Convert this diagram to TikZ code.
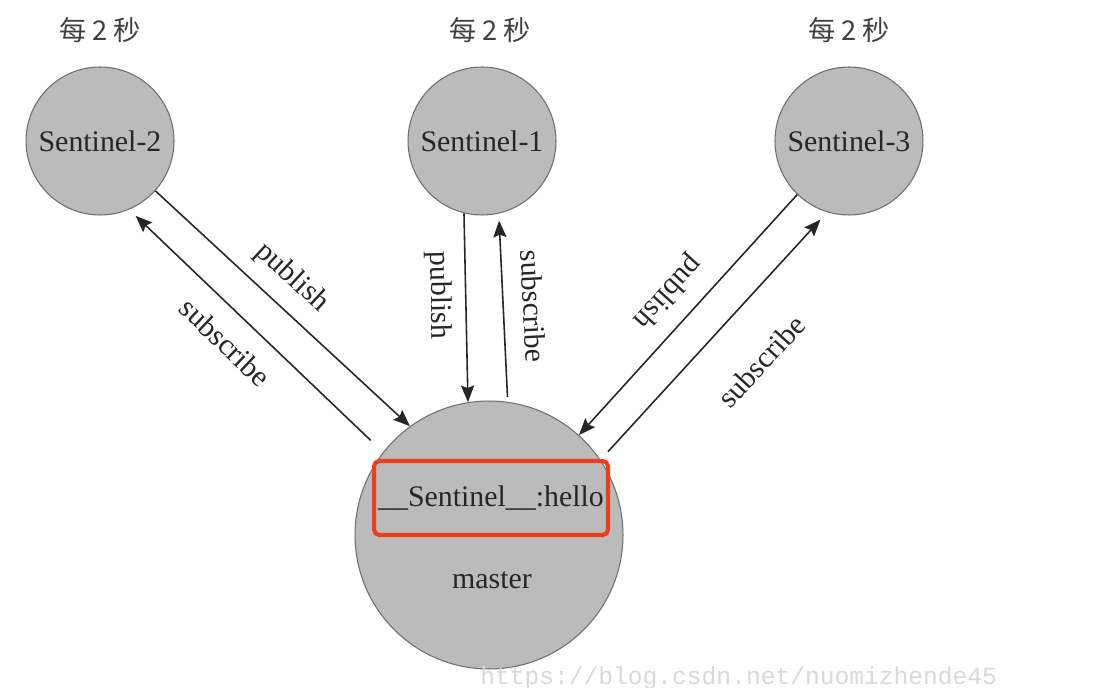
\documentclass[tikz,border=0pt]{standalone}
\usepackage{fontspec}
\setmainfont{Liberation Serif}
\newfontfamily\cjk{Noto Sans CJK SC}
\newfontfamily\wmfont{Liberation Mono}
\usetikzlibrary{arrows.meta,positioning}
\definecolor{nodegray}{RGB}{187,187,187}
\definecolor{rimgray}{RGB}{110,110,110}
\definecolor{boxred}{RGB}{236,61,28}

\begin{document}
\begin{tikzpicture}[x=0.02cm,y=-0.02cm,>={Stealth[length=9.5pt,width=7.5pt,inset=1.5pt]},
                    every node/.style={font=\fontsize{17}{20}\selectfont,text=black!85},
                    sentinel/.style={circle,draw=rimgray,fill=nodegray,line width=0.6pt,
                                     inner sep=0pt,minimum size=2.96cm},
                    msg/.style={line width=0.9pt,black!85},
                    everytwo/.style={font=\cjk\fontsize{15.5}{18}\selectfont,text=black!75}]

  \path[use as bounding box,fill=white] (0,0) rectangle (1098,688);

  \node[sentinel] (s1) at (482,141)     {Sentinel-1};
  \node[sentinel] (s2) [left=4.66cm of s1]  {Sentinel-2};
  \node[sentinel] (s3) [right=4.36cm of s1] {Sentinel-3};
  \node[sentinel,minimum size=5.36cm] (m) at (489,535) {};

  \node[everytwo] (t2) [above=0.36cm of s2] {每~2~秒};
  \node[everytwo] (t1) [above=0.36cm of s1,xshift=0.16cm] {每~2~秒};
  \node[everytwo] (t3) [above=0.36cm of s3] {每~2~秒};

  % master
  \node[draw=boxred,line width=2.3pt,rounded corners=3pt,inner sep=0pt,
        minimum width=4.68cm,minimum height=1.48cm] (hello) at (491,498) {\_\_Sentinel\_\_:hello};
  \node (mname) at (492,580) {master};

  % publish / subscribe
  \draw[msg,->] (s2.-42.5) -- node[pos=.46,sloped,above=5pt] {publish} (m.126.7);
  \draw[msg,<-,shorten <=0.18cm,shorten >=0.34cm] (s2.-67.4) -- node[pos=.46,sloped,below=7pt] {subscribe} (m.142);

  \draw[msg,->] (s1.-104.6) -- node[pos=.43,sloped,below=4pt] {publish} (m.99.4);
  \draw[msg,<-,shorten <=0.14cm,shorten >=0.1cm] (s1.-77) -- node[pos=.5,sloped,above=7.5pt] {subscribe} (m.82.6);

  \draw[msg,->] (s3.-134) -- node[pos=.49,sloped,allow upside down,below=6pt] {publish} (m.48.3);
  \draw[msg,->,shorten <=0.22cm,shorten >=0.2cm] (m.34.9) -- node[pos=.54,sloped,below=20pt] {subscribe} (s3.-107);

  \node[font=\wmfont\fontsize{14}{16}\selectfont,text=black!15,anchor=base west,inner sep=0pt]
        (wm) at (480,684) {https://blog.csdn.net/nuomizhende45};

\end{tikzpicture}
\end{document}
